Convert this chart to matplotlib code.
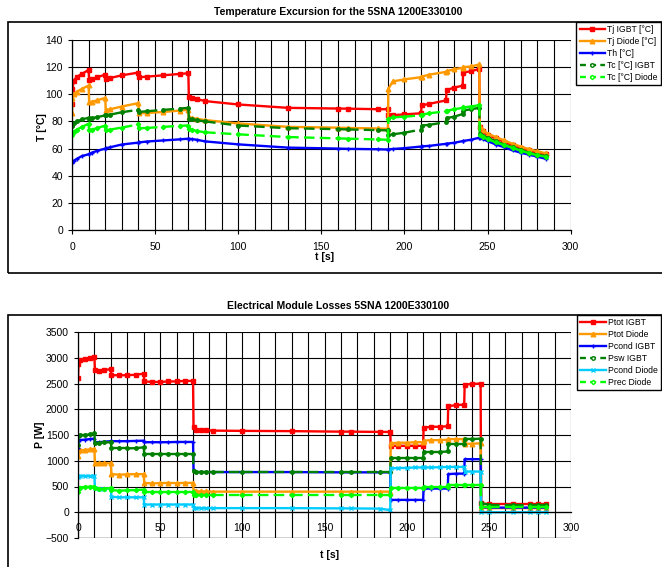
import numpy as np
import matplotlib
matplotlib.use('Agg')
import matplotlib.pyplot as plt
from matplotlib.collections import LineCollection
from matplotlib.lines import Line2D
from matplotlib.patches import Rectangle
from matplotlib.ticker import MultipleLocator

plt.rcParams['font.family'] = ['Liberation Sans', 'DejaVu Sans']

# ---- temperature data ----
t_temp = [0, 0.3, 1, 3, 6, 10, 10.3, 12, 15, 20, 20.3, 23, 30, 40, 40.3, 45, 55, 65,
          70, 70.3, 72, 75, 80, 100, 130, 160, 166, 184, 190, 190.3, 193, 200,
          210, 210.3, 215, 225, 225.3, 230, 235, 235.3, 240, 245, 245.3, 247,
          250, 255, 260, 265, 270, 275, 280, 285]
tj_igbt = [93, 104, 110, 113, 115, 118, 110.5, 111, 112.5, 114.5, 111.5, 112, 114, 116, 112.5, 113, 114, 115,
           115.5, 98, 97, 96.5, 95, 92.5, 90, 89.5, 89.4, 89, 89, 84.4, 84.6, 85.2,
           86, 91.8, 93, 95.5, 103, 105, 106.3, 116, 117, 118.7, 76, 73,
           70, 67.5, 65, 62.5, 60.5, 58.7, 57, 55.8]
tj_diode = [86, 97, 100, 102, 104, 106.5, 94, 94.5, 95.5, 97.4, 88.5, 89, 91, 93.5, 86, 86.2, 87, 88,
            88.6, 83, 82.5, 82, 81, 78.5, 76, 75.4, 75.2, 74.8, 74.6, 104, 109.5, 111,
            112.6, 113, 114.5, 116.5, 117, 118.5, 119.5, 120, 120.5, 122, 77, 74,
            71, 68.5, 66, 63.5, 61.5, 59.5, 58, 56.5]
th = [49.7, 50.1, 51, 52.5, 54.5, 55.8, 55.9, 57, 58.3, 60, 60.1, 61, 63, 64.4, 64.5, 65.2, 66, 66.8,
      67.3, 67.2, 67, 66.5, 65.3, 63.1, 60.7, 60, 59.8, 59.5, 59.3, 59.4, 59.7, 60.3,
      61.5, 61.6, 62, 63.5, 63.6, 64.3, 65.5, 65.6, 66.5, 68, 67.8, 67,
      65.5, 63, 61, 58.7, 57, 55.5, 54, 52.5]
tc_igbt = [76.4, 77.5, 78.5, 80, 81.5, 82.7, 82, 82.3, 83.2, 84.4, 84.4, 85, 86.8, 88.6, 87, 87.5, 88.5, 89.5,
           90, 82, 81.5, 81, 80, 77, 75, 74.3, 74.1, 73.6, 73.4, 70, 70.5, 71.7,
           74, 77, 77.5, 79.5, 82.5, 83.5, 85.5, 88, 89, 90, 71, 69.5,
           68, 65.5, 63, 61, 59, 57, 55.5, 54.5]
tc_diode = [69.8, 71.5, 72.5, 74, 76, 78.3, 73.6, 74, 75, 77, 73.5, 74, 75.5, 77.8, 75, 75.2, 76, 76.8,
            77, 74.6, 73.8, 73, 72, 70.5, 68.5, 67.5, 67.3, 66.7, 66.5, 82, 83, 83.5,
            84.5, 85, 86, 87.5, 87.8, 89, 90, 90.3, 91, 92, 70, 68.5,
            67, 64.5, 62.5, 60.5, 58.5, 56.5, 55, 54]

# ---- loss data ----
t_loss = [0, 0.3, 1, 4, 7, 10, 10.3, 13, 16, 20, 20.3, 25, 30, 35, 40, 40.3, 45, 50, 55, 60, 65,
          70, 70.3, 72, 75, 78, 82, 100, 130, 160, 166, 184, 190, 190.3, 195, 200, 205,
          210, 210.3, 215, 220, 225, 225.3, 230, 235, 235.3, 240, 245, 245.3, 250, 265, 275, 280, 285]
ptot_igbt = [2600, 2870, 2950, 2970, 2990, 3010, 2760, 2750, 2760, 2780, 2660, 2660, 2660, 2670, 2690, 2540, 2530, 2530, 2540, 2540, 2550,
             2550, 1650, 1600, 1590, 1590, 1585, 1580, 1575, 1565, 1565, 1560, 1560, 1290, 1290, 1290, 1290,
             1290, 1640, 1660, 1660, 1670, 2060, 2080, 2090, 2480, 2490, 2500, 170, 160, 160, 160, 160, 160]
ptot_diode = [1100, 1180, 1200, 1210, 1220, 1230, 950, 950, 950, 950, 740, 730, 735, 740, 740, 570, 560, 565, 570, 565, 570,
              570, 420, 410, 405, 405, 400, 400, 400, 400, 400, 400, 400, 1340, 1350, 1350, 1360,
              1360, 1390, 1400, 1400, 1410, 1420, 1420, 1420, 1330, 1330, 1340, 90, 80, 80, 80, 80, 80]
pcond_igbt = [1250, 1380, 1400, 1410, 1420, 1430, 1360, 1360, 1370, 1380, 1380, 1380, 1380, 1385, 1390, 1360, 1360, 1360, 1360, 1365, 1365,
              1365, 820, 780, 780, 780, 780, 780, 780, 775, 775, 775, 775, 240, 240, 240, 240,
              240, 460, 460, 460, 460, 740, 750, 750, 1030, 1030, 1030, 100, 90, 90, 90, 90, 90]
psw_igbt = [1300, 1480, 1500, 1500, 1510, 1530, 1350, 1350, 1355, 1360, 1240, 1240, 1240, 1245, 1260, 1140, 1140, 1140, 1140, 1140, 1140,
            1140, 800, 780, 780, 780, 780, 780, 780, 780, 780, 780, 780, 1050, 1050, 1050, 1050,
            1050, 1170, 1170, 1170, 1180, 1330, 1330, 1330, 1420, 1420, 1430, 170, 150, 150, 150, 150, 150]
pcond_diode = [690, 700, 705, 705, 705, 710, 470, 460, 460, 460, 300, 290, 290, 290, 290, 150, 150, 150, 150, 150, 150,
               150, 90, 80, 80, 80, 80, 80, 80, 75, 75, 70, 40, 850, 860, 860, 870,
               870, 870, 870, 875, 880, 880, 880, 880, 790, 790, 790, 0, 0, 0, 0, 0, 0]
prec_diode = [400, 470, 480, 490, 495, 500, 470, 460, 460, 470, 430, 420, 425, 430, 440, 400, 400, 400, 400, 400, 400,
              400, 340, 330, 330, 330, 330, 330, 330, 330, 330, 330, 330, 470, 470, 470, 470,
              470, 490, 490, 490, 490, 520, 520, 520, 520, 520, 520, 110, 100, 100, 100, 100, 100]

RED = '#FF0000'
ORANGE = '#FF9900'
BLUE = '#0000FF'
DGREEN = '#008000'
LGREEN = '#00FF00'
CYAN = '#00CCFF'
LW = 1.7


def solid(ax, t, y, color, marker, label, ms=3.5):
    h, = ax.plot(t, y, color=color, lw=LW, marker=marker, ms=ms, mec=color, mfc=color, label=label)
    return h


def dashed(ax, t, y, color, marker, label, ms=3):
    # excel restarts the dash pattern on every segment
    pts = np.column_stack([t, y])
    segs = np.stack([pts[:-1], pts[1:]], axis=1)
    lc = LineCollection(segs, colors=color, linewidths=LW, linestyles=[(0, (4.5, 2.2))])
    ax.add_collection(lc)
    ax.plot(t, y, ls='none', marker=marker, ms=ms, mec=color, mfc=color)
    return Line2D([], [], color=color, lw=LW, ls=(0, (2.5, 1.8)), marker=marker, ms=ms, mec=color, mfc='white', label=label)


def style(ax):
    ax.set_xlim(0, 300)
    ax.xaxis.set_major_locator(MultipleLocator(50))
    ax.xaxis.set_minor_locator(MultipleLocator(10))
    ax.grid(True, which='both', axis='x', color='black', lw=0.8)
    ax.grid(True, which='major', axis='y', color='black', lw=0.8)
    ax.tick_params(axis='both', which='major', labelsize=7.5, length=3, width=0.8, color='black')
    ax.tick_params(axis='x', which='minor', length=0)
    for s in ['top', 'right']:
        ax.spines[s].set_visible(False)
    for s in ['left', 'bottom']:
        ax.spines[s].set_linewidth(0.9)
    ax.set_axisbelow(True)


def legend(handles, top):
    return fig.legend(handles=handles, loc='upper right', bbox_to_anchor=(661 / 662, 1 - top / 567),
                      fontsize=6.2, frameon=True, fancybox=False, edgecolor='black', framealpha=1,
                      borderpad=0.35, labelspacing=0.34, handlelength=3.0, handletextpad=0.25,
                      borderaxespad=0)


fig = plt.figure(figsize=(6.62, 5.67), dpi=100)

# chart frames
fig.add_artist(Rectangle((8 / 662, 1 - 273 / 567), 1.0, (273 - 22) / 567, transform=fig.transFigure,
                         fill=False, ec='black', lw=1.2))
fig.add_artist(Rectangle((8 / 662, -0.05), 1.0, 0.05 + 1 - 315 / 567, transform=fig.transFigure,
                         fill=False, ec='black', lw=1.2))

# --- temperature ---
ax1 = fig.add_axes([72 / 662, 1 - 230 / 567, (570.7 - 72) / 662, 190 / 567])
h1 = [solid(ax1, t_temp, tj_igbt, RED, 's', 'Tj IGBT [°C]', 3.3),
      solid(ax1, t_temp, tj_diode, ORANGE, '^', 'Tj Diode [°C]', 3.3),
      solid(ax1, t_temp, th, BLUE, '+', 'Th [°C]', 3.5),
      dashed(ax1, t_temp, tc_igbt, DGREEN, 'o', 'Tc [°C] IGBT', 2.5),
      dashed(ax1, t_temp, tc_diode, LGREEN, 'D', 'Tc [°C] Diode', 2.2)]
ax1.set_ylim(0, 140)
ax1.yaxis.set_major_locator(MultipleLocator(20))
style(ax1)
ax1.tick_params(axis='x', pad=6)

fig.text(338 / 662, 1 - 12 / 567, 'Temperature Excursion for the 5SNA 1200E330100',
         ha='center', va='center', fontsize=7.5, fontweight='bold')
fig.text(42 / 662, 1 - 127 / 567, 'T [°C]', rotation=90, ha='center', va='center',
         fontsize=7.5, fontweight='bold')
fig.text(325 / 662, 1 - 257 / 567, 't [s]', ha='center', va='center', fontsize=7.5, fontweight='bold')
legend(h1, 22)

# --- losses ---
ax2 = fig.add_axes([78 / 662, 1 - 538 / 567, (571 - 78) / 662, 206 / 567])
h2 = [solid(ax2, t_loss, ptot_igbt, RED, 's', 'Ptot IGBT', 3.3),
      solid(ax2, t_loss, ptot_diode, ORANGE, '^', 'Ptot Diode', 3.3),
      solid(ax2, t_loss, pcond_igbt, BLUE, '+', 'Pcond IGBT', 3.5),
      dashed(ax2, t_loss, psw_igbt, DGREEN, 'o', 'Psw IGBT', 2.5),
      solid(ax2, t_loss, pcond_diode, CYAN, 'x', 'Pcond Diode', 3),
      dashed(ax2, t_loss, prec_diode, LGREEN, 'D', 'Prec Diode', 2.2)]
ax2.set_ylim(-500, 3500)
ax2.yaxis.set_major_locator(MultipleLocator(500))
style(ax2)
ax2.spines['bottom'].set_position(('data', 0))
ax2.tick_params(axis='x', which='major', length=0, pad=8)
ax2.axhline(-500, color='black', lw=0.9)

fig.text(338 / 662, 1 - 306 / 567, 'Electrical Module Losses 5SNA 1200E330100',
         ha='center', va='center', fontsize=7.5, fontweight='bold')
fig.text(40 / 662, 1 - 435 / 567, 'P [W]', rotation=90, ha='center', va='center',
         fontsize=7.5, fontweight='bold')
fig.text(330 / 662, 1 - 555 / 567, 't [s]', ha='center', va='center', fontsize=7.5, fontweight='bold')
legend(h2, 315)

fig.savefig('out.png', dpi=100)
